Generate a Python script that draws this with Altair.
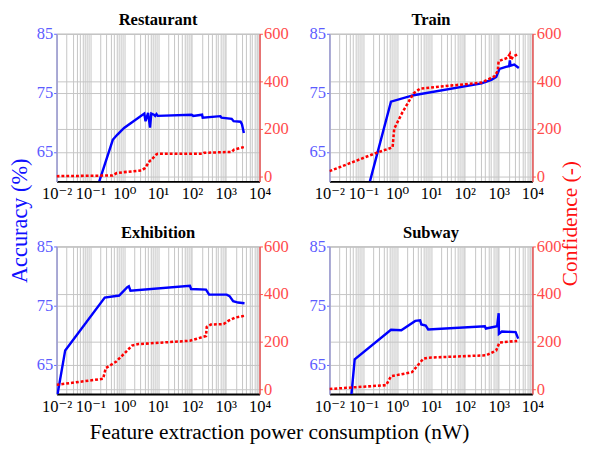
import altair as alt
import pandas as pd

# ---------------- data ----------------
titles = ["Restaurant", "Train", "Exhibition", "Subway"]

rest_acc_x = [0.183, 0.459, 0.62, 0.99, 3.92, 4.27, 5.08, 5.79, 6.33, 7.53, 8.22, 8.97, 9.8, 97.5, 110, 200, 209, 697, 750, 1500, 1710, 2755, 3020, 3440]
rest_acc_y = [60.0, 67.05, 67.9, 69.05, 71.5, 70.2, 71.6, 69.1, 71.5, 71.3, 71.1, 71.4, 71.1, 71.3, 71.1, 71.3, 70.8, 71.05, 70.8, 70.6, 70.2, 70.1, 69.7, 68.2]
rest_conf_x = [0.01, 0.459, 0.6, 0.99, 3.3, 4.1, 5.7, 6.3, 8.8, 9.8, 209, 230, 1500, 1750, 2600, 3440]
rest_conf_y = [2, 5, 15, 19, 26, 36, 66, 70, 93, 96, 96, 100, 104, 113, 120, 124]

train_acc_x = [0.157, 0.658, 3.07, 315, 610, 850, 1058, 1640, 2050, 2150, 2250, 2900, 3960]
train_acc_y = [60.0, 73.5, 74.6, 76.6, 77.2, 77.7, 79.05, 79.4, 79.5, 80.5, 79.6, 79.8, 79.2]
train_conf_x = [0.01, 0.244, 0.734, 0.82, 1.42, 3.07, 4.78, 315, 760, 946, 1000, 1830, 2150, 2300, 2700, 3960]
train_conf_y = [23, 100, 123, 201, 269, 350, 370, 395, 422, 445, 485, 499, 515, 490, 505, 516]

exh_acc_x = [0.0107, 0.018, 0.266, 0.71, 1.23, 1.37, 1.53, 87.5, 95, 261, 324, 1070, 1300, 1660, 2320, 3600]
exh_acc_y = [60.0, 67.4, 76.35, 76.7, 78.1, 78.25, 77.5, 78.35, 77.8, 77.7, 76.85, 76.85, 76.6, 75.75, 75.5, 75.4]
exh_conf_x = [0.01, 0.238, 0.284, 0.571, 1.0, 1.7, 2.63, 87.5, 261, 275, 361, 867, 1200, 1860, 3600]
exh_conf_y = [19, 44.6, 89, 116, 150, 184, 190, 204, 224, 262, 272, 274, 288, 301, 309]

sub_acc_x = [0.0448, 0.0557, 0.658, 1.33, 3.44, 4.78, 5.2, 7.0, 8.3, 392, 420, 906, 1005, 1020, 1250, 3180, 3790]
sub_acc_y = [60.0, 65.9, 70.9, 70.8, 72.4, 72.5, 71.8, 71.6, 70.95, 71.5, 71.1, 71.5, 73.7, 70.2, 70.6, 70.5, 69.4]
sub_conf_x = [0.01, 0.473, 0.658, 2.75, 5.96, 8.3, 436, 847, 1058, 3550]
sub_conf_y = [1.4, 17.6, 55, 72, 129, 133, 143, 163, 197, 203]

acc_ticks = [65, 75, 85]
conf_ticks = [0, 200, 400, 600]
x_ticks = [k * 10.0 ** e for e in range(-2, 4) for k in range(1, 10)] + [10000.0]

panels = [
    (rest_acc_x, rest_acc_y, rest_conf_x, rest_conf_y),
    (train_acc_x, train_acc_y, train_conf_x, train_conf_y),
    (exh_acc_x, exh_acc_y, exh_conf_x, exh_conf_y),
    (sub_acc_x, sub_acc_y, sub_conf_x, sub_conf_y),
]

FONT = "'Liberation Serif', 'Times New Roman', 'DejaVu Serif', serif"
W, H = 209, 152

label_expr = ("abs(log(datum.value)/LN10 - round(log(datum.value)/LN10)) < 0.001 ? "
              "'10' + ['⁻²','⁻¹','⁰','¹','²','³','⁴'][round(log(datum.value)/LN10)+2] : ''")


def make_panel(idx):
    ax, ay, cx, cy = panels[idx]
    dfa = pd.DataFrame({"x": ax, "acc": ay, "i": list(range(len(ax)))})
    dfc = pd.DataFrame({"x": cx, "conf": cy, "i": list(range(len(cx)))})

    xargs = dict(values=x_ticks, labelExpr=label_expr, labelOverlap=False, labelFlush=False,
                 grid=True, gridColor="#c4c4c4", gridWidth=1, ticks=False,
                 domainColor="#000000", domainWidth=2, labelFont=FONT, labelFontSize=17,
                 labelColor="#000000", labelPadding=5)
    if idx == 2:
        xargs.update(title="Feature extraction power consumption (nW)", titleX=229, titleY=39,
                     titleAlign="center", titleBaseline="middle", titleFont=FONT,
                     titleFontSize=22, titleFontWeight="normal", titleColor="#000000")
    else:
        xargs.update(title=None)
    xenc = alt.X("x:Q", scale=alt.Scale(type="log", domain=[0.01, 10000], nice=False),
                 axis=alt.Axis(**xargs))

    aargs = dict(values=acc_ticks, grid=True, gridColor="#c4c4c4", orient="left",
                 labelColor="#5c5cff", labelFont=FONT, labelFontSize=17, tickColor="#5c5cff",
                 tickSize=3, labelPadding=1, domainColor="#9a9ad6", domainWidth=1.5)
    if idx == 0:
        aargs.update(title="Accuracy (%)", titleX=-38, titleY=192, titleAngle=270,
                     titleAlign="center", titleBaseline="middle", titleFont=FONT,
                     titleFontSize=23, titleFontWeight="normal", titleColor="#1010ff")
    else:
        aargs.update(title=None)

    cargs = dict(values=conf_ticks, grid=True, gridColor="#c4c4c4", orient="right",
                 labelColor="#ff4c4c", labelFont=FONT, labelFontSize=17, tickColor="#ff4c4c",
                 tickSize=3, labelPadding=1, domainColor="#ee5555", domainWidth=1.5)
    if idx == 1:
        cargs.update(title="Confidence (-)", titleX=38, titleY=195, titleAngle=270,
                     titleAlign="center", titleBaseline="middle", titleFont=FONT,
                     titleFontSize=22, titleFontWeight="normal", titleColor="#ff1010")
    else:
        cargs.update(title=None)

    blue = alt.Chart(dfa).mark_line(color="#0000ff", strokeWidth=2.5, clip=True).encode(
        x=xenc,
        y=alt.Y("acc:Q", scale=alt.Scale(domain=[60, 85], nice=False, zero=False),
                axis=alt.Axis(**aargs)),
        order="i:Q",
    )
    red = alt.Chart(dfc).mark_line(color="#ff0000", strokeWidth=2.6, strokeDash=[3, 2],
                                   clip=True).encode(
        x=xenc,
        y=alt.Y("conf:Q", scale=alt.Scale(domain=[-20, 600], nice=False, zero=False),
                axis=alt.Axis(**cargs)),
        order="i:Q",
    )
    return alt.layer(blue, red).resolve_scale(y="independent").properties(
        width=W, height=H,
        title=alt.TitleParams(titles[idx], font=FONT, fontSize=17, fontWeight="bold",
                              color="#000000", offset=-4),
    )


chart = alt.concat(*[make_panel(i) for i in range(4)], columns=2,
                   spacing={"row": 67, "column": 72}, bounds="flush").properties(
    padding={"left": 0, "top": -4, "right": 0, "bottom": 0}
).configure_view(stroke="#b5b5b5", strokeWidth=1)

chart.save("out.html", embed_options={"renderer": "svg", "actions": False})
